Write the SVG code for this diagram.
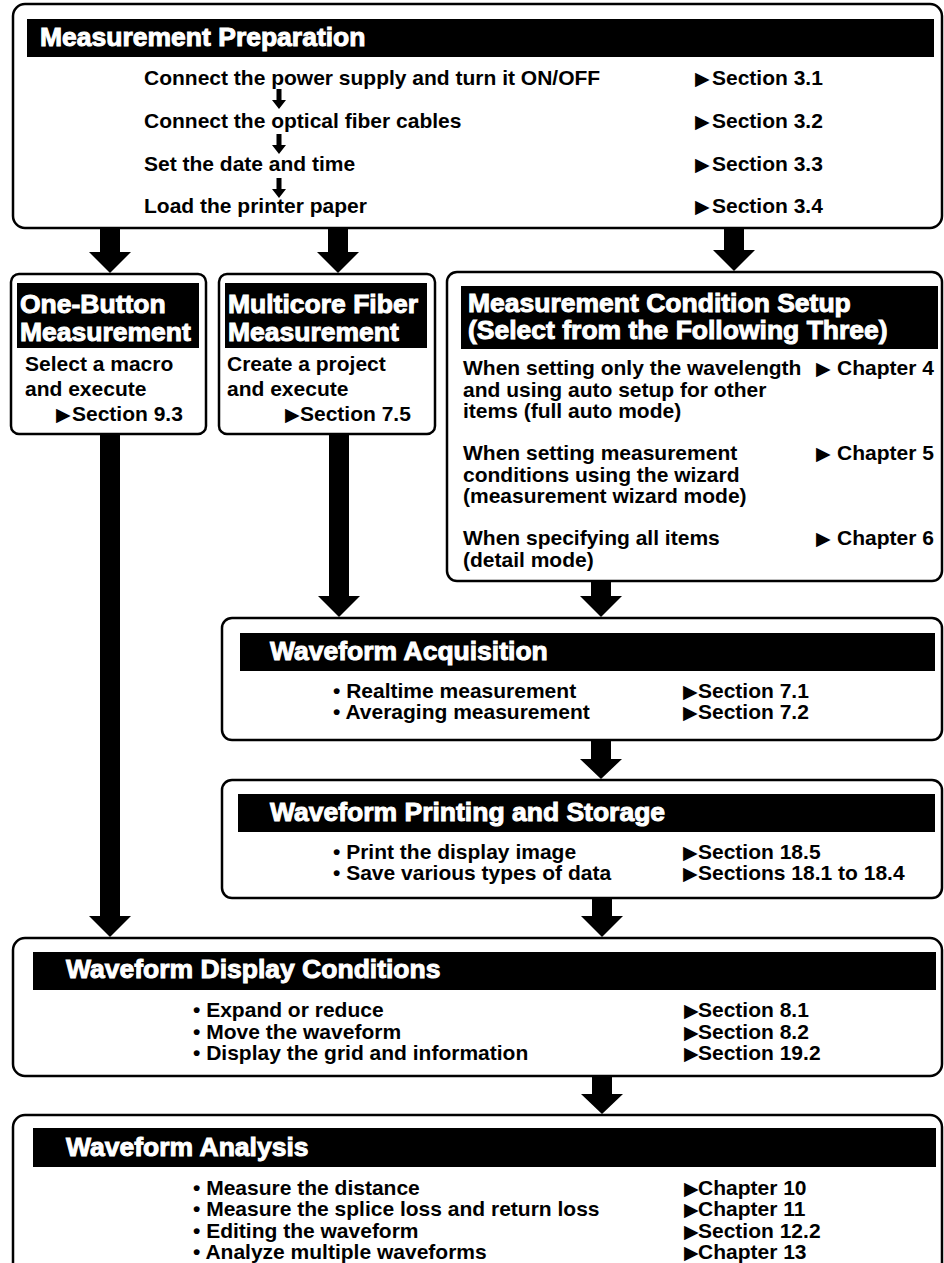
<svg xmlns="http://www.w3.org/2000/svg" width="944" height="1263" viewBox="0 0 944 1263">
<defs>
<style>
.box{fill:#fff;stroke:#000;stroke-width:2.5}
.bar{fill:#000}
.hd{font-family:"Liberation Sans",Arial,sans-serif;font-weight:bold;font-size:26.5px;fill:#fff;stroke:#fff;stroke-width:1}
.tx{font-family:"Liberation Sans",Arial,"DejaVu Sans",sans-serif;font-weight:bold;font-size:21px;fill:#000}
.tri{font-family:"DejaVu Sans",sans-serif;font-weight:normal;font-size:19px}
.arr{fill:#000}
</style>
</defs>
<rect width="944" height="1263" fill="#fff"/>

<g id="prep">
<rect class="box" x="13" y="4" width="929" height="224" rx="12"/>
<rect class="bar" x="27" y="19" width="907" height="38"/>
<text class="hd" x="40" y="46">Measurement Preparation</text>
<text class="tx" x="144" y="85">Connect the power supply and turn it ON/OFF</text>
<text class="tx" x="144" y="128">Connect the optical fiber cables</text>
<text class="tx" x="144" y="171">Set the date and time</text>
<text class="tx" x="144" y="213">Load the printer paper</text>
<text class="tx" y="85"><tspan class="tri" x="695">▶</tspan><tspan x="712">Section 3.1</tspan></text>
<text class="tx" y="128"><tspan class="tri" x="695">▶</tspan><tspan x="712">Section 3.2</tspan></text>
<text class="tx" y="171"><tspan class="tri" x="695">▶</tspan><tspan x="712">Section 3.3</tspan></text>
<text class="tx" y="213"><tspan class="tri" x="695">▶</tspan><tspan x="712">Section 3.4</tspan></text>
</g>

<g id="onebutton">
<rect class="box" x="11" y="274" width="195" height="160" rx="8"/>
<rect class="bar" x="17" y="283" width="182" height="65"/>
<text class="hd"><tspan x="20" y="313">One-Button</tspan><tspan x="20" y="341">Measurement</tspan></text>
<text class="tx" x="25" y="371">Select a macro</text>
<text class="tx" x="25" y="396">and execute</text>
<text class="tx" y="421"><tspan class="tri" x="56">▶</tspan><tspan x="72">Section 9.3</tspan></text>
</g>

<g id="multicore">
<rect class="box" x="219" y="274" width="216" height="160" rx="8"/>
<rect class="bar" x="225" y="283" width="202" height="65"/>
<text class="hd"><tspan x="228" y="313">Multicore Fiber</tspan><tspan x="228" y="341">Measurement</tspan></text>
<text class="tx" x="227" y="371">Create a project</text>
<text class="tx" x="227" y="396">and execute</text>
<text class="tx" y="421"><tspan class="tri" x="285">▶</tspan><tspan x="300">Section 7.5</tspan></text>
</g>

<g id="condition">
<rect class="box" x="447" y="272" width="495" height="309" rx="10"/>
<rect class="bar" x="461" y="286" width="477" height="63"/>
<text class="hd"><tspan x="468" y="312">Measurement Condition Setup</tspan><tspan x="468" y="339">(Select from the Following Three)</tspan></text>
<text class="tx" x="463" y="375">When setting only the wavelength</text>
<text class="tx" x="463" y="397">and using auto setup for other</text>
<text class="tx" x="463" y="418">items (full auto mode)</text>
<text class="tx" x="463" y="460">When setting measurement</text>
<text class="tx" x="463" y="482">conditions using the wizard</text>
<text class="tx" x="463" y="503">(measurement wizard mode)</text>
<text class="tx" x="463" y="545">When specifying all items</text>
<text class="tx" x="463" y="567">(detail mode)</text>
<text class="tx" y="375"><tspan class="tri" x="816">▶</tspan><tspan x="837">Chapter 4</tspan></text>
<text class="tx" y="460"><tspan class="tri" x="816">▶</tspan><tspan x="837">Chapter 5</tspan></text>
<text class="tx" y="545"><tspan class="tri" x="816">▶</tspan><tspan x="837">Chapter 6</tspan></text>
</g>

<g id="acquisition">
<rect class="box" x="222" y="618" width="720" height="122" rx="10"/>
<rect class="bar" x="240" y="633" width="695" height="38"/>
<text class="hd" x="270" y="660">Waveform Acquisition</text>
<text class="tx" x="333" y="698">• Realtime measurement</text>
<text class="tx" x="333" y="719">• Averaging measurement</text>
<text class="tx" y="698"><tspan class="tri" x="683">▶</tspan><tspan x="698">Section 7.1</tspan></text>
<text class="tx" y="719"><tspan class="tri" x="683">▶</tspan><tspan x="698">Section 7.2</tspan></text>
</g>

<g id="printing">
<rect class="box" x="222" y="780" width="720" height="118" rx="10"/>
<rect class="bar" x="238" y="794" width="697" height="38"/>
<text class="hd" x="270" y="821">Waveform Printing and Storage</text>
<text class="tx" x="333" y="859">• Print the display image</text>
<text class="tx" x="333" y="880">• Save various types of data</text>
<text class="tx" y="859"><tspan class="tri" x="683">▶</tspan><tspan x="698">Section 18.5</tspan></text>
<text class="tx" y="880"><tspan class="tri" x="683">▶</tspan><tspan x="698">Sections 18.1 to 18.4</tspan></text>
</g>

<g id="display">
<rect class="box" x="13" y="938" width="929" height="138" rx="12"/>
<rect class="bar" x="33" y="952" width="903" height="38"/>
<text class="hd" x="66" y="978">Waveform Display Conditions</text>
<text class="tx" x="193" y="1017">• Expand or reduce</text>
<text class="tx" x="193" y="1039">• Move the waveform</text>
<text class="tx" x="193" y="1060">• Display the grid and information</text>
<text class="tx" y="1017"><tspan class="tri" x="684">▶</tspan><tspan x="698">Section 8.1</tspan></text>
<text class="tx" y="1039"><tspan class="tri" x="684">▶</tspan><tspan x="698">Section 8.2</tspan></text>
<text class="tx" y="1060"><tspan class="tri" x="684">▶</tspan><tspan x="698">Section 19.2</tspan></text>
</g>

<g id="analysis">
<rect class="box" x="13" y="1115" width="929" height="200" rx="12"/>
<rect class="bar" x="33" y="1128" width="903" height="39"/>
<text class="hd" x="66" y="1156">Waveform Analysis</text>
<text class="tx" x="193" y="1195">• Measure the distance</text>
<text class="tx" x="193" y="1216">• Measure the splice loss and return loss</text>
<text class="tx" x="193" y="1238">• Editing the waveform</text>
<text class="tx" x="193" y="1259">• Analyze multiple waveforms</text>
<text class="tx" y="1195"><tspan class="tri" x="684">▶</tspan><tspan x="698">Chapter 10</tspan></text>
<text class="tx" y="1216"><tspan class="tri" x="684">▶</tspan><tspan x="698">Chapter 11</tspan></text>
<text class="tx" y="1238"><tspan class="tri" x="684">▶</tspan><tspan x="698">Section 12.2</tspan></text>
<text class="tx" y="1259"><tspan class="tri" x="684">▶</tspan><tspan x="698">Chapter 13</tspan></text>
</g>

<g id="connectors">
<path class="arr" d="M100 229H120V252H131L110 273L89 252H100Z"/>
<path class="arr" d="M328 229H348V252H359L338 273L317 252H328Z"/>
<path class="arr" d="M724 229H744V250H755L734 271L713 250H724Z"/>
<path class="arr" d="M100 435H120V916H131L110 937L89 916H100Z"/>
<path class="arr" d="M329 435H349V596H360L339 617L318 596H329Z"/>
<path class="arr" d="M591 582H611V596H622L601 617L580 596H591Z"/>
<path class="arr" d="M591 741H611V759H622L601 779L580 759H591Z"/>
<path class="arr" d="M592 899H612V916H623L602 937L581 916H592Z"/>
<path class="arr" d="M592 1077H612V1094H623L602 1114L581 1094H592Z"/>
<path class="arr" d="M276.5 89H281.5V100H286L279 109L272 100H276.5Z"/>
<path class="arr" d="M276.5 134H281.5V145H286L279 154L272 145H276.5Z"/>
<path class="arr" d="M276.5 178H281.5V189H286L279 198L272 189H276.5Z"/>
</g>
</svg>
